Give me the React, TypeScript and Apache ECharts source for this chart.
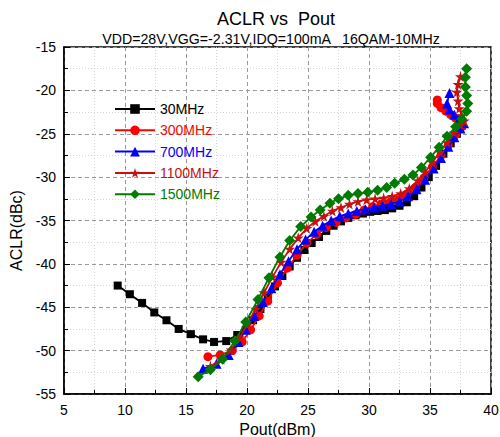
import React, { useEffect, useRef } from "react";
import * as echarts from "echarts";

const seriesNames = ["30MHz", "300MHz", "700MHz", "1100MHz", "1500MHz"];
const seriesColors = ["#000000", "#ff0000", "#0000ff", "#c81010", "#007a00"];

const aclr30: number[][] = [
  [9.4, -42.5], [10.4, -43.5], [11.4, -44.5], [12.4, -45.6], [13.4, -46.5], [14.4, -47.5],
  [15.4, -48.1], [16.4, -48.7], [17.3, -49.0], [18.3, -48.9], [19.2, -48.2], [19.9, -47.6],
  [20.5, -46.5], [21.1, -45.2], [21.7, -43.9], [22.3, -42.6], [22.9, -41.4], [23.5, -40.3],
  [24.1, -39.3], [24.7, -38.4], [25.3, -37.6], [25.9, -36.9], [26.5, -36.2], [27.1, -35.6],
  [27.7, -35.1], [28.3, -34.7], [28.9, -34.4], [29.5, -34.2], [30.1, -34.0], [30.7, -33.9],
  [31.3, -33.8], [31.9, -33.6], [32.5, -33.3], [33.1, -32.9], [33.7, -32.2], [34.3, -31.2],
  [34.9, -30.0], [35.5, -28.7], [36.1, -27.3], [36.7, -26.1], [37.2, -25.0], [37.6, -24.1],
];

const aclr300: number[][] = [
  [16.8, -50.7], [17.8, -50.5], [18.8, -50.0], [19.6, -49.0], [20.3, -47.6], [21.0, -46.0],
  [21.7, -44.3], [22.5, -42.2], [23.3, -40.5], [24.1, -39.0], [24.9, -37.6], [25.7, -36.6],
  [26.5, -35.8], [27.3, -35.2], [28.1, -34.7], [28.9, -34.3], [29.6, -33.8], [30.3, -33.4],
  [31.0, -33.1], [31.7, -32.9], [32.4, -32.6], [33.1, -32.0], [33.8, -31.2], [34.5, -30.1],
  [35.2, -28.8], [35.9, -27.5], [36.5, -26.3], [37.1, -25.1], [37.6, -24.2], [37.5, -23.6],
  [37.1, -23.2], [36.7, -22.8], [36.3, -22.4], [35.9, -22.0], [35.6, -21.5], [35.6, -21.1],
];

const aclr700: number[][] = [
  [16.4, -52.1], [17.5, -51.5], [18.5, -50.5], [19.3, -49.0], [19.9, -47.6], [20.6, -46.0],
  [21.3, -44.4], [22.0, -42.8], [22.7, -41.2], [23.4, -39.7], [24.1, -38.3], [24.8, -37.2],
  [25.5, -36.3], [26.2, -35.6], [26.9, -35.0], [27.6, -34.5], [28.3, -34.2], [29.0, -33.9],
  [29.7, -33.7], [30.4, -33.5], [31.1, -33.3], [31.8, -33.1], [32.5, -32.8], [33.2, -32.2],
  [33.9, -31.4], [34.6, -30.3], [35.3, -29.0], [35.9, -27.8], [36.5, -26.5], [37.0, -25.4],
  [37.5, -24.4], [37.8, -23.8], [37.4, -23.3], [37.0, -22.8], [36.6, -22.2], [36.4, -21.5],
  [36.6, -20.3],
];

const aclr1100: number[][] = [
  [17.0, -51.8], [17.9, -51.0], [18.7, -49.9], [19.4, -48.5], [20.0, -47.0], [20.7, -45.2],
  [21.4, -43.3], [22.1, -41.5], [22.8, -39.8], [23.5, -38.3], [24.2, -37.0], [24.9, -35.9],
  [25.6, -35.1], [26.3, -34.5], [27.0, -33.9], [27.7, -33.5], [28.4, -33.1], [29.1, -32.8],
  [29.8, -32.6], [30.5, -32.5], [31.2, -32.4], [31.9, -32.2], [32.6, -31.9], [33.3, -31.3],
  [34.0, -30.4], [34.6, -29.4], [35.2, -28.3], [35.8, -27.1], [36.4, -26.0], [37.0, -24.9],
  [37.5, -24.0], [37.8, -23.5], [37.6, -22.9], [37.4, -22.1], [37.3, -21.2], [37.2, -20.2],
  [37.3, -19.3], [37.5, -18.4],
];

const aclr1500: number[][] = [
  [16.0, -53.0], [17.0, -52.2], [18.0, -51.0], [19.0, -48.9], [19.9, -46.7], [20.9, -44.1],
  [21.8, -41.6], [22.7, -39.2], [23.5, -37.3], [24.4, -35.7], [25.25, -34.6], [26.0, -33.8],
  [26.8, -33.0], [27.5, -32.5], [28.3, -32.1], [29.1, -31.9], [29.9, -31.75], [30.7, -31.5],
  [31.45, -31.2], [32.1, -30.7], [32.9, -30.25], [33.6, -29.75], [34.3, -28.9], [35.05, -27.7],
  [35.75, -26.55], [36.4, -25.3], [37.1, -24.2], [37.6, -23.3], [38.0, -22.4], [38.1, -21.5],
  [38.0, -20.6], [37.9, -19.6], [37.9, -18.5], [38.0, -17.5],
];

const seriesData = [aclr30, aclr300, aclr700, aclr1100, aclr1500];

const STAR = "path://M50,0 L61,35 L98,35 L68,57 L79,91 L50,70 L21,91 L32,57 L2,35 L39,35 Z";
const symbols = ["rect", "circle", "triangle", STAR, "diamond"];
const symbolSizes = [8, 9, 10, 11, 11];

const FONT = "'Liberation Sans', Arial, sans-serif";

export default function App() {
  const ref = useRef<HTMLDivElement>(null);
  useEffect(() => {
    document.body.style.margin = "0";
    if (!ref.current) return;
    const chart = echarts.init(ref.current, undefined, { renderer: "svg" });
    chart.setOption({
      animation: false,
      backgroundColor: "#ffffff",
      textStyle: { fontFamily: FONT },
      grid: {
        left: 64,
        right: 9,
        top: 47,
        bottom: 43,
        show: true,
        borderColor: "#000",
        borderWidth: 1.5,
        backgroundColor: "transparent",
        containLabel: false,
        outerBoundsMode: "none",
      },
      graphic: [
        {
          type: "text",
          style: {
            text: "ACLR vs  Pout",
            x: 276,
            y: 19,
            textAlign: "center",
            textVerticalAlign: "middle",
            font: `18px ${FONT}`,
            fill: "#000",
          },
        },
        {
          type: "text",
          style: {
            text: "VDD=28V,VGG=-2.31V,IDQ=100mA   16QAM-10MHz",
            x: 271,
            y: 39,
            textAlign: "center",
            textVerticalAlign: "middle",
            font: `14.2px ${FONT}`,
            fill: "#000",
          },
        },
      ],
      legend: {
        orient: "vertical",
        left: 109,
        top: 97,
        itemWidth: 40,
        itemHeight: 12,
        itemGap: 7.3,
        textStyle: { fontSize: 14, lineHeight: 14, fontFamily: FONT },
        data: seriesNames.map((n, i) => ({ name: n, textStyle: { color: seriesColors[i] } })),
      },
      xAxis: {
        type: "value",
        min: 5,
        max: 40,
        interval: 5,
        name: "Pout(dBm)",
        nameLocation: "middle",
        nameGap: 25,
        nameTextStyle: { fontSize: 16, color: "#000", fontFamily: FONT, verticalAlign: "top" },
        axisLine: { show: true, lineStyle: { color: "#000", width: 1.5 } },
        axisTick: { show: true, inside: true, length: 6, lineStyle: { color: "#000" } },
        minorTick: { show: true, splitNumber: 2, length: 4, lineStyle: { color: "#000" } },
        axisLabel: { fontSize: 14, color: "#000", margin: 9, fontFamily: FONT },
        splitLine: { show: true, lineStyle: { color: "#9a9a9a", type: [4, 3], width: 1 } },
        minorSplitLine: { show: true, lineStyle: { color: "#d4d4d4", type: [1, 2], width: 1 } },
      },
      yAxis: {
        type: "value",
        min: -55,
        max: -15,
        interval: 5,
        name: "ACLR(dBc)",
        nameLocation: "middle",
        nameGap: 36,
        nameTextStyle: { fontSize: 16, color: "#000", fontFamily: FONT, padding: [0, 20, 0, 0] },
        axisLine: { show: true, lineStyle: { color: "#000", width: 1.5 } },
        axisTick: { show: true, inside: true, length: 6, lineStyle: { color: "#000" } },
        minorTick: { show: true, splitNumber: 2, length: 4, lineStyle: { color: "#000" } },
        axisLabel: { fontSize: 14, color: "#000", margin: 8, fontFamily: FONT },
        splitLine: { show: true, lineStyle: { color: "#9a9a9a", type: [4, 3], width: 1 } },
        minorSplitLine: { show: true, lineStyle: { color: "#d4d4d4", type: [1, 2], width: 1 } },
      },
      series: seriesNames.map((n, i) => ({
        name: n,
        type: "line",
        data: seriesData[i],
        color: seriesColors[i],
        symbol: symbols[i],
        symbolSize: symbolSizes[i],
        showAllSymbol: true,
        lineStyle: { width: 1.8, color: seriesColors[i] },
        itemStyle: { color: seriesColors[i] },
        z: 2 + i,
      })),
    });
    return () => chart.dispose();
  }, []);
  return <div ref={ref} style={{ width: 500, height: 437 }} />;
}
